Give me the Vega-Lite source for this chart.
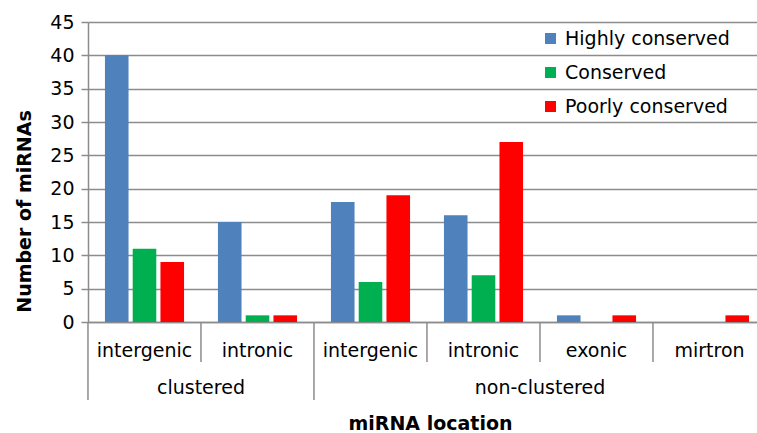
{
  "$schema": "https://vega.github.io/schema/vega-lite/v6.json",
  "autosize": {"type": "none"},
  "width": 669,
  "height": 300,
  "padding": {"left": 88, "top": 22, "right": 0, "bottom": 111},
  "background": "white",
  "config": {
    "font": "DejaVu Sans",
    "view": {"stroke": null},
    "axis": {"labelColor": "#000000", "titleColor": "#000000", "domainColor": "#8c8c8c", "tickColor": "#8c8c8c", "gridColor": "#8c8c8c"},
    "axisY": {
      "titleFontSize": 19,
      "titleFontWeight": "bold",
      "titleX": -64,
      "titleY": 189,
      "titleAngle": -90,
      "titleAlign": "center",
      "titleBaseline": "middle",
      "labelOverlap": false,
      "labelFontSize": 19,
      "labelPadding": 7,
      "tickSize": 7,
      "tickWidth": 1.5,
      "gridWidth": 1.5,
      "domainWidth": 1.5,
      "grid": true,
      "tickCount": 10
    },
    "legend": {"orient": "none", "legendX": 453, "legendY": 7, "title": null, "labelFontSize": 19, "labelColor": "#000000", "labelLimit": 0, "symbolType": "square", "symbolSize": 121, "symbolStrokeWidth": 0, "rowPadding": 14, "labelOffset": 5}
  },
  "datasets": {
    "counts": [
      {"location": "clustered|intergenic", "series": "Highly conserved", "count": 40},
      {"location": "clustered|intergenic", "series": "Conserved", "count": 11},
      {"location": "clustered|intergenic", "series": "Poorly conserved", "count": 9},
      {"location": "clustered|intronic", "series": "Highly conserved", "count": 15},
      {"location": "clustered|intronic", "series": "Conserved", "count": 1},
      {"location": "clustered|intronic", "series": "Poorly conserved", "count": 1},
      {"location": "non-clustered|intergenic", "series": "Highly conserved", "count": 18},
      {"location": "non-clustered|intergenic", "series": "Conserved", "count": 6},
      {"location": "non-clustered|intergenic", "series": "Poorly conserved", "count": 19},
      {"location": "non-clustered|intronic", "series": "Highly conserved", "count": 16},
      {"location": "non-clustered|intronic", "series": "Conserved", "count": 7},
      {"location": "non-clustered|intronic", "series": "Poorly conserved", "count": 27},
      {"location": "non-clustered|exonic", "series": "Highly conserved", "count": 1},
      {"location": "non-clustered|exonic", "series": "Conserved", "count": 0},
      {"location": "non-clustered|exonic", "series": "Poorly conserved", "count": 1},
      {"location": "non-clustered|mirtron", "series": "Highly conserved", "count": 0},
      {"location": "non-clustered|mirtron", "series": "Conserved", "count": 0},
      {"location": "non-clustered|mirtron", "series": "Poorly conserved", "count": 1}
    ],
    "dividers": [
      {"location": "clustered|intergenic", "level": "group"},
      {"location": "clustered|intronic", "level": "sub"},
      {"location": "non-clustered|intergenic", "level": "group"},
      {"location": "non-clustered|intronic", "level": "sub"},
      {"location": "non-clustered|exonic", "level": "sub"},
      {"location": "non-clustered|mirtron", "level": "sub"}
    ],
    "groups": [
      {"group": "clustered", "location": "clustered|intronic"},
      {"group": "non-clustered", "location": "non-clustered|exonic"}
    ]
  },
  "encoding": {
    "x": {
      "field": "location",
      "type": "nominal",
      "sort": null,
      "scale": {
        "domain": ["clustered|intergenic", "clustered|intronic", "non-clustered|intergenic", "non-clustered|intronic", "non-clustered|exonic", "non-clustered|mirtron"],
        "range": [0, 678],
        "paddingInner": 0.3,
        "paddingOuter": 0.15
      },
      "axis": {
        "title": "miRNA location",
        "titleFontSize": 19,
        "titleFontWeight": "bold",
        "titleX": 342,
        "titleY": 101,
        "titleBaseline": "middle",
        "titleAlign": "center",
        "labelExpr": "split(datum.value, '|')[1]",
        "labelAngle": 0,
        "labelFontSize": 19,
        "labelPadding": 19,
        "ticks": false,
        "domainWidth": 1.5
      }
    }
  },
  "layer": [
    {
      "data": {"name": "counts"},
      "mark": {"type": "bar"},
      "encoding": {
        "xOffset": {
          "field": "series",
          "type": "nominal",
          "sort": ["Highly conserved", "Conserved", "Poorly conserved"],
          "scale": {"paddingInner": 0.15, "paddingOuter": 0}
        },
        "y": {
          "field": "count",
          "type": "quantitative",
          "scale": {"domain": [0, 45], "nice": false},
          "axis": {"title": "Number of miRNAs", "values": [0, 5, 10, 15, 20, 25, 30, 35, 40, 45]}
        },
        "color": {
          "field": "series",
          "type": "nominal",
          "sort": ["Highly conserved", "Conserved", "Poorly conserved"],
          "scale": {"domain": ["Highly conserved", "Conserved", "Poorly conserved"], "range": ["#4f81bd", "#00b050", "#ff0000"]}
        }
      }
    },
    {
      "data": {"name": "dividers"},
      "transform": [{"filter": "datum.level === 'sub'"}],
      "mark": {"type": "rule", "color": "#8c8c8c", "strokeWidth": 1.5},
      "encoding": {
        "x": {"field": "location", "type": "nominal", "bandPosition": -0.2146},
        "y": {"datum": 0, "type": "quantitative", "axis": {"title": "Number of miRNAs", "values": [0, 5, 10, 15, 20, 25, 30, 35, 40, 45]}},
        "y2": {"datum": -6}
      }
    },
    {
      "data": {"name": "dividers"},
      "transform": [{"filter": "datum.level === 'group'"}],
      "mark": {"type": "rule", "color": "#8c8c8c", "strokeWidth": 1.5},
      "encoding": {
        "x": {"field": "location", "type": "nominal", "bandPosition": -0.2146},
        "y": {"datum": 0, "type": "quantitative", "axis": {"title": "Number of miRNAs", "values": [0, 5, 10, 15, 20, 25, 30, 35, 40, 45]}},
        "y2": {"datum": -11.7}
      }
    },
    {
      "data": {"name": "groups"},
      "mark": {"type": "text", "fontSize": 19, "color": "#000000", "baseline": "middle", "align": "center"},
      "encoding": {
        "x": {"field": "location", "type": "nominal", "bandPosition": -0.2146},
        "y": {"datum": -9.9, "type": "quantitative", "axis": {"title": "Number of miRNAs", "values": [0, 5, 10, 15, 20, 25, 30, 35, 40, 45]}},
        "text": {"field": "group"}
      }
    }
  ]
}
